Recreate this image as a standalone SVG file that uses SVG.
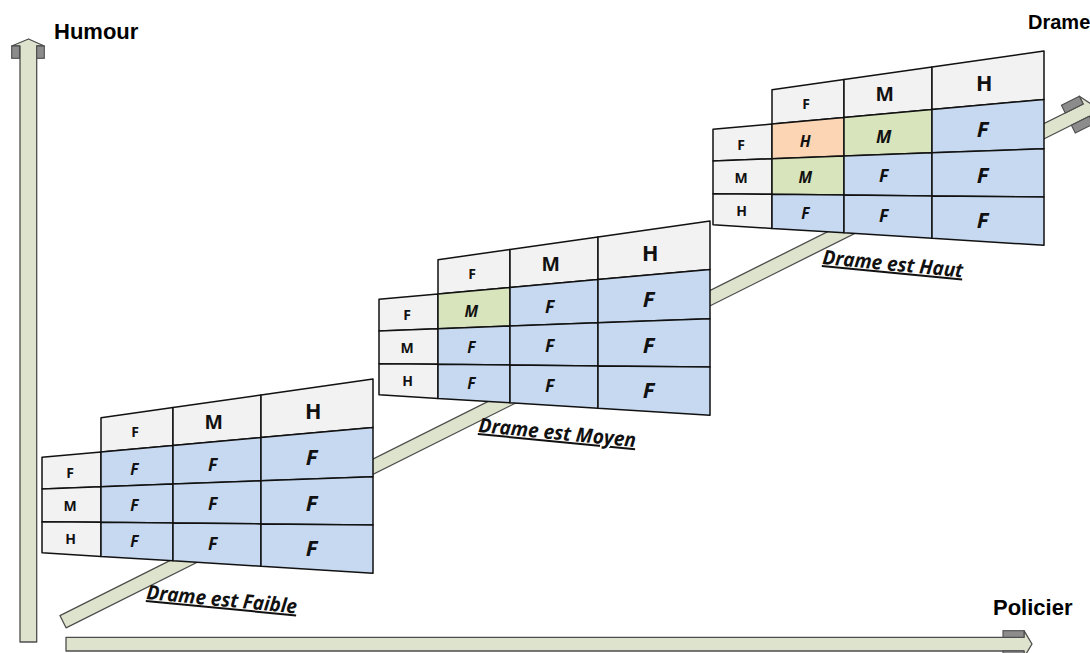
<svg xmlns="http://www.w3.org/2000/svg" width="1090" height="653" viewBox="0 0 1090 653">
<style>
.ax{fill:#dde3cc;stroke:#4d4d4d;stroke-width:1.3;stroke-linejoin:round}
.hd{fill:#8c8c8c;stroke:#4d4d4d;stroke-width:1.1}
.c{stroke:#111;stroke-width:1.5;stroke-linejoin:round}
.g{fill:#f2f2f2}
.b{fill:#c6d9f1}
.gr{fill:#d8e4bc}
.or{fill:#fcd5b4}
text{font-family:"Open Sans","Liberation Sans",sans-serif;font-weight:bold;text-anchor:middle;fill:#111}
.i{font-style:italic}
.ttl{font-family:"Liberation Sans",Arial,sans-serif;text-anchor:start;fill:#000}
.lbl{font-style:italic;text-anchor:start;text-decoration:underline;font-size:20px}
.s12{font-size:14px}.s13{font-size:15.5px}.s15{font-size:17.5px}.s18{font-size:19.5px}.s19{font-size:21.5px}.s20{font-size:22px}
</style>
<rect width="1090" height="653" fill="#fff"/>
<g id="axes">
  <g id="axis-humour">
    <polygon class="ax" points="20,642 20,46 11.7,46 28.5,39 44.3,46 36.7,46 36.7,642"/>
    <rect class="hd" x="11.7" y="46" width="7.8" height="12.3"/>
    <rect class="hd" x="36.7" y="46" width="7.6" height="12.3"/>
  </g>
  <g id="axis-policier">
    <polygon class="ax" points="66,637.3 1024,637.3 1024,630.7 1032,644 1024,657.3 1024,651 66,651"/>
    <rect class="hd" x="1003" y="630.7" width="21" height="6.6"/>
    <rect class="hd" x="1003" y="651" width="21" height="6.6"/>
  </g>
  <g id="axis-drame" transform="translate(63,621.7) rotate(-26.565)">
    <polygon class="ax" points="0,-6.85 1144,-6.85 1144,-15.5 1153,0 1144,15.5 1144,6.85 0,6.85"/>
    <rect class="hd" x="1124" y="-15.5" width="20" height="8.65"/>
    <rect class="hd" x="1124" y="6.85" width="20" height="8.65"/>
  </g>
  <text class="ttl" x="54" y="39" font-size="22">Humour</text>
  <text class="ttl" x="993" y="615" font-size="22">Policier</text>
  <text class="ttl" x="1028" y="28.5" font-size="20">Drame</text>
</g>

<g id="table-faible">
  <polygon class="c g" points="101,417.7 173,407.5 173,445.5 101,452"/>
  <polygon class="c g" points="173,407.5 261,395 261,437.6 173,445.5"/>
  <polygon class="c g" points="261,395 373,379.1 373,427.5 261,437.6"/>
  <polygon class="c g" points="42,457.3 101,452 101,486.8 42,489"/>
  <polygon class="c g" points="42,489 101,486.8 101,522.3 42,521.7"/>
  <polygon class="c g" points="42,521.7 101,522.3 101,556.4 42,552.7"/>
  <polygon class="c b" points="101,452 173,445.5 173,484.1 101,486.8"/>
  <polygon class="c b" points="173,445.5 261,437.6 261,480.8 173,484.1"/>
  <polygon class="c b" points="261,437.6 373,427.5 373,476.7 261,480.8"/>
  <polygon class="c b" points="101,486.8 173,484.1 173,523 101,522.3"/>
  <polygon class="c b" points="173,484.1 261,480.8 261,523.9 173,523"/>
  <polygon class="c b" points="261,480.8 373,476.7 373,525 261,523.9"/>
  <polygon class="c b" points="101,522.3 173,523 173,560.8 101,556.4"/>
  <polygon class="c b" points="173,523 261,523.9 261,566.3 173,560.8"/>
  <polygon class="c b" points="261,523.9 373,525 373,573.3 261,566.3"/>
  <text class="s12" x="135" y="437.3">F</text>
  <text class="s18" x="213.7" y="429.2">M</text>
  <text class="s19" x="313.3" y="419.4">H</text>
  <text class="s12" x="70" y="477.8">F</text>
  <text class="s12" x="70" y="511">M</text>
  <text class="s12" x="70.7" y="544.3">H</text>
  <text class="s13 i" x="134.3" y="474.6">F</text>
  <text class="s13 i" x="134.3" y="510.6">F</text>
  <text class="s13 i" x="134.3" y="547.3">F</text>
  <text class="s15 i" x="212.7" y="470.6">F</text>
  <text class="s15 i" x="212.7" y="510.3">F</text>
  <text class="s15 i" x="212.7" y="550.3">F</text>
  <text class="s20 i" x="311.7" y="465">F</text>
  <text class="s20 i" x="311.7" y="511">F</text>
  <text class="s20 i" x="311.7" y="556">F</text>
</g>

<g id="table-moyen" transform="translate(337,-158)">
  <polygon class="c g" points="101,417.7 173,407.5 173,445.5 101,452"/>
  <polygon class="c g" points="173,407.5 261,395 261,437.6 173,445.5"/>
  <polygon class="c g" points="261,395 373,379.1 373,427.5 261,437.6"/>
  <polygon class="c g" points="42,457.3 101,452 101,486.8 42,489"/>
  <polygon class="c g" points="42,489 101,486.8 101,522.3 42,521.7"/>
  <polygon class="c g" points="42,521.7 101,522.3 101,556.4 42,552.7"/>
  <polygon class="c gr" points="101,452 173,445.5 173,484.1 101,486.8"/>
  <polygon class="c b" points="173,445.5 261,437.6 261,480.8 173,484.1"/>
  <polygon class="c b" points="261,437.6 373,427.5 373,476.7 261,480.8"/>
  <polygon class="c b" points="101,486.8 173,484.1 173,523 101,522.3"/>
  <polygon class="c b" points="173,484.1 261,480.8 261,523.9 173,523"/>
  <polygon class="c b" points="261,480.8 373,476.7 373,525 261,523.9"/>
  <polygon class="c b" points="101,522.3 173,523 173,560.8 101,556.4"/>
  <polygon class="c b" points="173,523 261,523.9 261,566.3 173,560.8"/>
  <polygon class="c b" points="261,523.9 373,525 373,573.3 261,566.3"/>
  <text class="s12" x="135" y="437.3">F</text>
  <text class="s18" x="213.7" y="429.2">M</text>
  <text class="s19" x="313.3" y="419.4">H</text>
  <text class="s12" x="70" y="477.8">F</text>
  <text class="s12" x="70" y="511">M</text>
  <text class="s12" x="70.7" y="544.3">H</text>
  <text class="s13 i" x="134.3" y="474.6">M</text>
  <text class="s13 i" x="134.3" y="510.6">F</text>
  <text class="s13 i" x="134.3" y="547.3">F</text>
  <text class="s15 i" x="212.7" y="470.6">F</text>
  <text class="s15 i" x="212.7" y="510.3">F</text>
  <text class="s15 i" x="212.7" y="550.3">F</text>
  <text class="s20 i" x="311.7" y="465">F</text>
  <text class="s20 i" x="311.7" y="511">F</text>
  <text class="s20 i" x="311.7" y="556">F</text>
</g>

<g id="table-haut" transform="translate(671,-328)">
  <polygon class="c g" points="101,417.7 173,407.5 173,445.5 101,452"/>
  <polygon class="c g" points="173,407.5 261,395 261,437.6 173,445.5"/>
  <polygon class="c g" points="261,395 373,379.1 373,427.5 261,437.6"/>
  <polygon class="c g" points="42,457.3 101,452 101,486.8 42,489"/>
  <polygon class="c g" points="42,489 101,486.8 101,522.3 42,521.7"/>
  <polygon class="c g" points="42,521.7 101,522.3 101,556.4 42,552.7"/>
  <polygon class="c or" points="101,452 173,445.5 173,484.1 101,486.8"/>
  <polygon class="c gr" points="173,445.5 261,437.6 261,480.8 173,484.1"/>
  <polygon class="c b" points="261,437.6 373,427.5 373,476.7 261,480.8"/>
  <polygon class="c gr" points="101,486.8 173,484.1 173,523 101,522.3"/>
  <polygon class="c b" points="173,484.1 261,480.8 261,523.9 173,523"/>
  <polygon class="c b" points="261,480.8 373,476.7 373,525 261,523.9"/>
  <polygon class="c b" points="101,522.3 173,523 173,560.8 101,556.4"/>
  <polygon class="c b" points="173,523 261,523.9 261,566.3 173,560.8"/>
  <polygon class="c b" points="261,523.9 373,525 373,573.3 261,566.3"/>
  <text class="s12" x="135" y="437.3">F</text>
  <text class="s18" x="213.7" y="429.2">M</text>
  <text class="s19" x="313.3" y="419.4">H</text>
  <text class="s12" x="70" y="477.8">F</text>
  <text class="s12" x="70" y="511">M</text>
  <text class="s12" x="70.7" y="544.3">H</text>
  <text class="s13 i" x="134.3" y="474.6">H</text>
  <text class="s13 i" x="134.3" y="510.6">M</text>
  <text class="s13 i" x="134.3" y="547.3">F</text>
  <text class="s15 i" x="212.7" y="470.6">M</text>
  <text class="s15 i" x="212.7" y="510.3">F</text>
  <text class="s15 i" x="212.7" y="550.3">F</text>
  <text class="s20 i" x="311.7" y="465">F</text>
  <text class="s20 i" x="311.7" y="511">F</text>
  <text class="s20 i" x="311.7" y="556">F</text>
</g>

<g id="labels">
  <text class="lbl" x="146" y="599" transform="rotate(5.5 146 599)" textLength="151" lengthAdjust="spacingAndGlyphs">Drame est Faible</text>
  <text class="lbl" x="478" y="432" transform="rotate(5.5 478 432)" textLength="158" lengthAdjust="spacingAndGlyphs">Drame est Moyen</text>
  <text class="lbl" x="822" y="264" transform="rotate(5.5 822 264)" textLength="141" lengthAdjust="spacingAndGlyphs">Drame est Haut</text>
</g>
</svg>
